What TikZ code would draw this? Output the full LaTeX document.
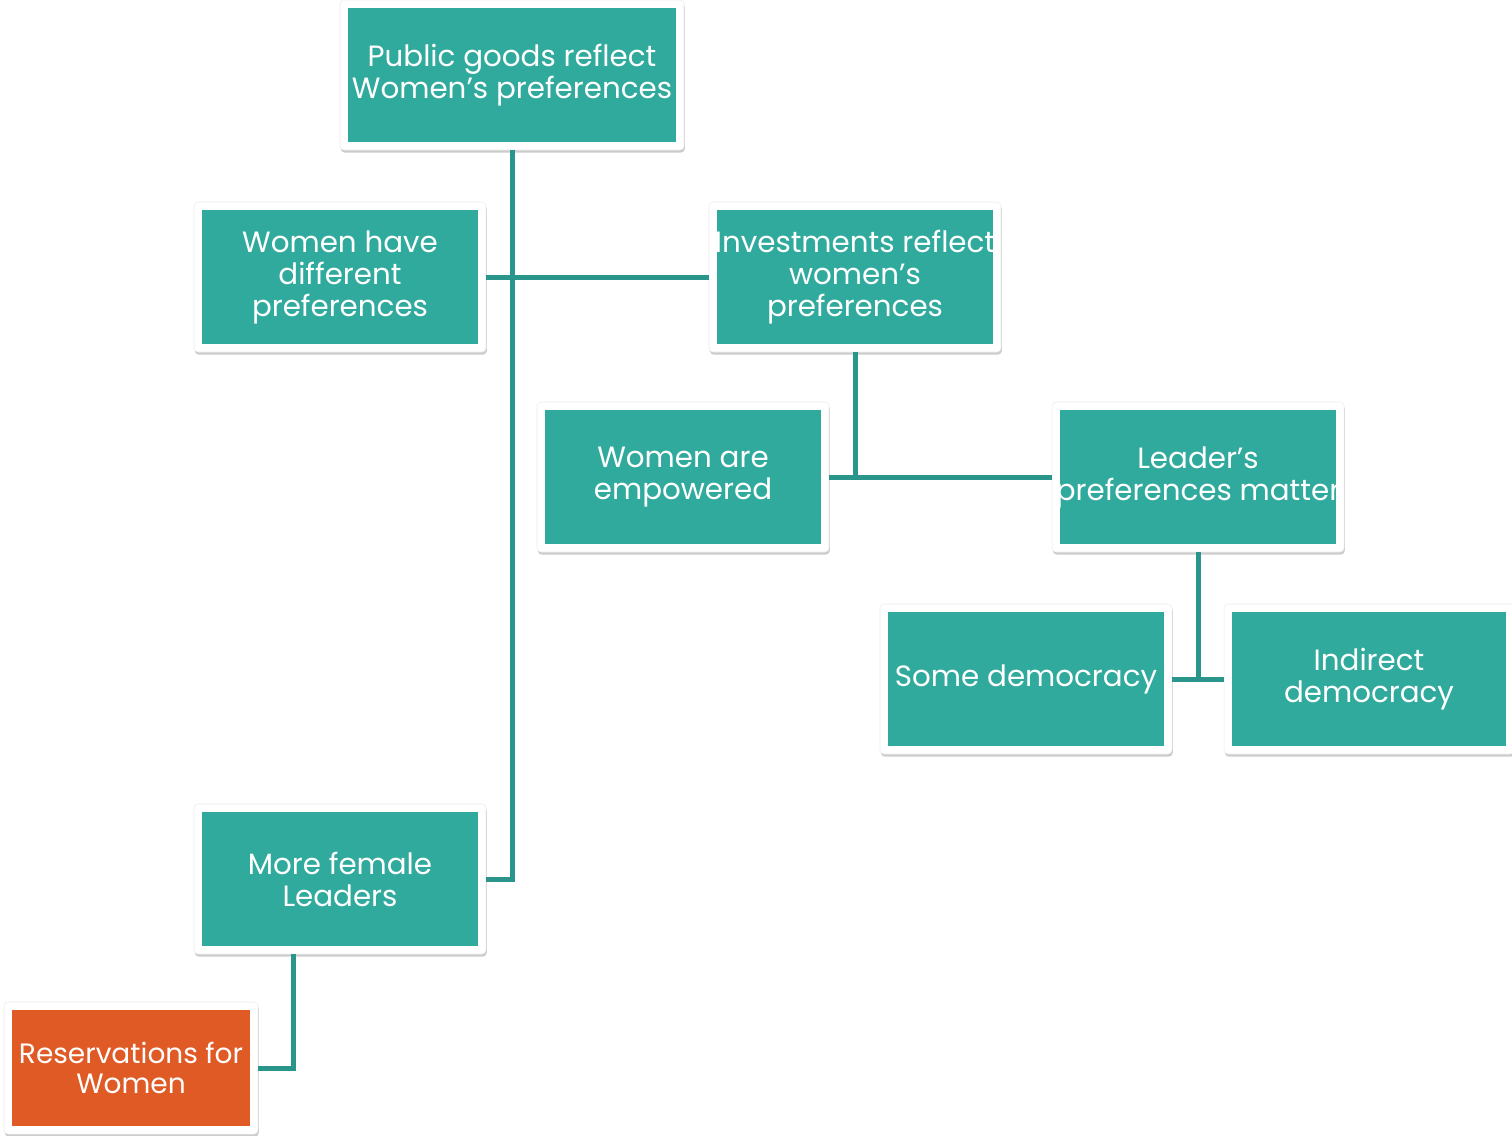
\documentclass[tikz,border=0pt]{standalone}
\usepackage{fontspec}
\setmainfont{Poppins}
\usetikzlibrary{shadows}
\definecolor{tealfill}{HTML}{31AA9E}
\definecolor{tealline}{HTML}{2A958A}
\definecolor{orangefill}{HTML}{E05A26}
\tikzset{
  % white card with a coloured panel inset by 6pt
  card/.style={rectangle, fill=white, draw=black!7, line width=0.4pt, rounded corners=3pt,
    minimum width=219pt, minimum height=112.5pt, inner sep=0pt, outer sep=0pt,
    align=center, text=white, font=\fontsize{22}{24}\selectfont,
    drop shadow={shadow xshift=0.6pt, shadow yshift=-2pt, opacity=0.2, fill=black},
    path picture={\fill[#1, sharp corners]
      ([shift={(6pt,6pt)}]path picture bounding box.south west) rectangle
      ([shift={(-6pt,-6pt)}]path picture bounding box.north east);}},
  card/.default=tealfill,
  link/.style={draw=tealline, line width=3.75pt}
}
\begin{document}
\begin{tikzpicture}[x=0.75pt, y=-0.75pt]
  \useasboundingbox[fill=white] (0,0) rectangle (1512,1135);

  \node[card, minimum width=258pt] (pub) at (512,75) {Public goods reflect\\Women’s preferences};
  \node[card] (diff) at (340,277) {Women have\\different\\preferences};
  \node[card] (inv)  at (855,277) {Investments reflect\\women’s\\preferences};
  \node[card] (emp)  at (683,477) {Women are\\empowered};
  \node[card] (lead) at (1198,477) {Leader’s\\preferences matter};
  \node[card] (some) at (1026,679) {Some democracy};
  \node[card, minimum width=217.5pt] (ind) at (1369,679) {Indirect\\democracy};
  \node[card] (fem)  at (340,879) {More female\\Leaders};
  \node[card=orangefill, minimum width=190.5pt, minimum height=99pt,
        font=\fontsize{21}{23}\selectfont] (res) at (131,1068) {Reservations for\\Women};

  % tree connectors
  \path[link] (pub.south) -- (pub.south |- fem.east) -- (fem.east);
  \path[link] (diff.east) -- (inv.west);
  \path[link] (inv.south) -- (inv.south |- lead.west);
  \path[link] (emp.east) -- (lead.west);
  \path[link] (lead.south) -- (lead.south |- ind.west);
  \path[link] (some.east) -- (ind.west);
  \coordinate (femdrop) at ([xshift=-35.25pt]fem.south);
  \path[link] (femdrop) -- (femdrop |- res.east) -- (res.east);
\end{tikzpicture}
\end{document}
